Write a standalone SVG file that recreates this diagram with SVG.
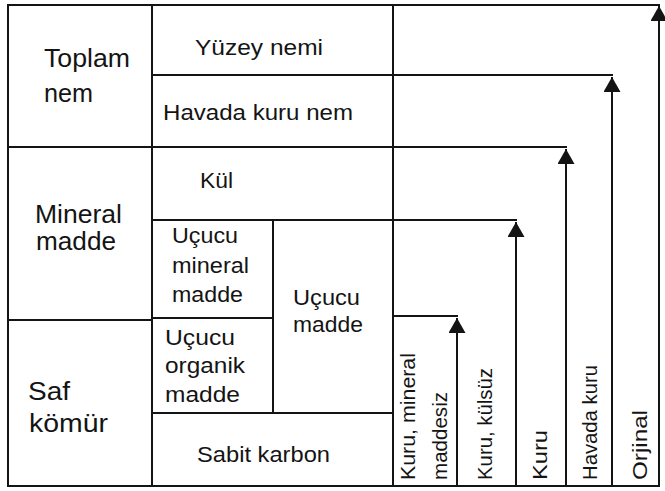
<svg xmlns="http://www.w3.org/2000/svg" width="665" height="491" viewBox="0 0 665 491">
<style>
.ln{stroke:#141414;stroke-width:2;fill:none;stroke-linecap:square}
.ar{stroke:#141414;stroke-width:2;fill:none}
text{font-family:"Liberation Sans",Arial,sans-serif;fill:#141414;lengthAdjust:spacingAndGlyphs}
.big{font-size:25px}
.sm{font-size:22px}
.vt{font-size:21px}
</style>
<defs>
<marker id="ah" markerUnits="userSpaceOnUse" markerWidth="16" markerHeight="17" refX="15" refY="8.5" orient="auto" viewBox="0 0 16 17">
<path d="M0,0 L15,8.5 L0,17 Z" fill="#141414"/>
</marker>
</defs>
<rect width="665" height="491" fill="#fff"/>
<g id="grid">
<line class="ln" x1="8" y1="5" x2="659" y2="5"/>
<line class="ln" x1="8" y1="486" x2="659" y2="486"/>
<line class="ln" x1="8" y1="5" x2="8" y2="486"/>
<line class="ln" x1="152" y1="5" x2="152" y2="486"/>
<line class="ln" x1="393" y1="5" x2="393" y2="486"/>
<line class="ln" x1="152" y1="75" x2="612" y2="75"/>
<line class="ln" x1="8" y1="147" x2="566" y2="147"/>
<line class="ln" x1="152" y1="220" x2="516" y2="220"/>
<line class="ln" x1="8" y1="320" x2="152" y2="320"/>
<line class="ln" x1="152" y1="318" x2="273" y2="318"/>
<line class="ln" x1="393" y1="316" x2="457" y2="316"/>
<line class="ln" x1="152" y1="413" x2="393" y2="413"/>
<line class="ln" x1="273" y1="220" x2="273" y2="413"/>
</g>
<g id="connectors">
<path class="ar" d="M659,486 V6" marker-end="url(#ah)"/>
<path class="ar" d="M612,486 V77" marker-end="url(#ah)"/>
<path class="ar" d="M566,486 V149" marker-end="url(#ah)"/>
<path class="ar" d="M516,486 V222" marker-end="url(#ah)"/>
<path class="ar" d="M457,486 V318" marker-end="url(#ah)"/>
</g>
<g id="toplam-nem"><text class="big" x="44" y="67" textLength="86" lengthAdjust="spacingAndGlyphs">Toplam</text><text class="big" x="44" y="102" textLength="49" lengthAdjust="spacingAndGlyphs">nem</text></g>
<g id="mineral-madde"><text class="big" x="35" y="223" textLength="87" lengthAdjust="spacingAndGlyphs">Mineral</text><text class="big" x="36" y="250" textLength="80" lengthAdjust="spacingAndGlyphs">madde</text></g>
<g id="saf-komur"><text class="big" x="28" y="400" textLength="42" lengthAdjust="spacingAndGlyphs">Saf</text><text class="big" x="29" y="432" textLength="79" lengthAdjust="spacingAndGlyphs">kömür</text></g>
<g id="yuzey-nemi"><text class="sm" x="195" y="55" textLength="128" lengthAdjust="spacingAndGlyphs">Yüzey nemi</text></g>
<g id="havada-kuru-nem"><text class="sm" x="163" y="120" textLength="190" lengthAdjust="spacingAndGlyphs">Havada kuru nem</text></g>
<g id="kul"><text class="sm" x="200" y="188" textLength="33" lengthAdjust="spacingAndGlyphs">Kül</text></g>
<g id="ucucu-mineral-madde"><text class="sm" x="172" y="243" textLength="66" lengthAdjust="spacingAndGlyphs">Uçucu</text><text class="sm" x="172" y="273" textLength="77" lengthAdjust="spacingAndGlyphs">mineral</text><text class="sm" x="172" y="302" textLength="71" lengthAdjust="spacingAndGlyphs">madde</text></g>
<g id="ucucu-madde"><text class="sm" x="293" y="305" textLength="67" lengthAdjust="spacingAndGlyphs">Uçucu</text><text class="sm" x="293" y="332" textLength="70" lengthAdjust="spacingAndGlyphs">madde</text></g>
<g id="ucucu-organik-madde"><text class="sm" x="165" y="345" textLength="70" lengthAdjust="spacingAndGlyphs">Uçucu</text><text class="sm" x="165" y="373" textLength="80" lengthAdjust="spacingAndGlyphs">organik</text><text class="sm" x="165" y="402" textLength="75" lengthAdjust="spacingAndGlyphs">madde</text></g>
<g id="sabit-karbon"><text class="sm" x="197" y="462" textLength="133" lengthAdjust="spacingAndGlyphs">Sabit karbon</text></g>
<g id="kuru-mineral-maddesiz"><text class="vt" transform="translate(415,480) rotate(-90)" textLength="127" lengthAdjust="spacingAndGlyphs">Kuru, mineral</text><text class="vt" transform="translate(447,480) rotate(-90)" textLength="88" lengthAdjust="spacingAndGlyphs">maddesiz</text></g>
<g id="kuru-kulsuz"><text class="vt" transform="translate(492,480) rotate(-90)" textLength="112" lengthAdjust="spacingAndGlyphs">Kuru, külsüz</text></g>
<g id="kuru"><text class="vt" transform="translate(547,480) rotate(-90)" textLength="50" lengthAdjust="spacingAndGlyphs">Kuru</text></g>
<g id="havada-kuru"><text class="vt" transform="translate(597,480) rotate(-90)" textLength="115" lengthAdjust="spacingAndGlyphs">Havada kuru</text></g>
<g id="orjinal"><text class="vt" transform="translate(647,480) rotate(-90)" textLength="70" lengthAdjust="spacingAndGlyphs">Orjinal</text></g>
</svg>
